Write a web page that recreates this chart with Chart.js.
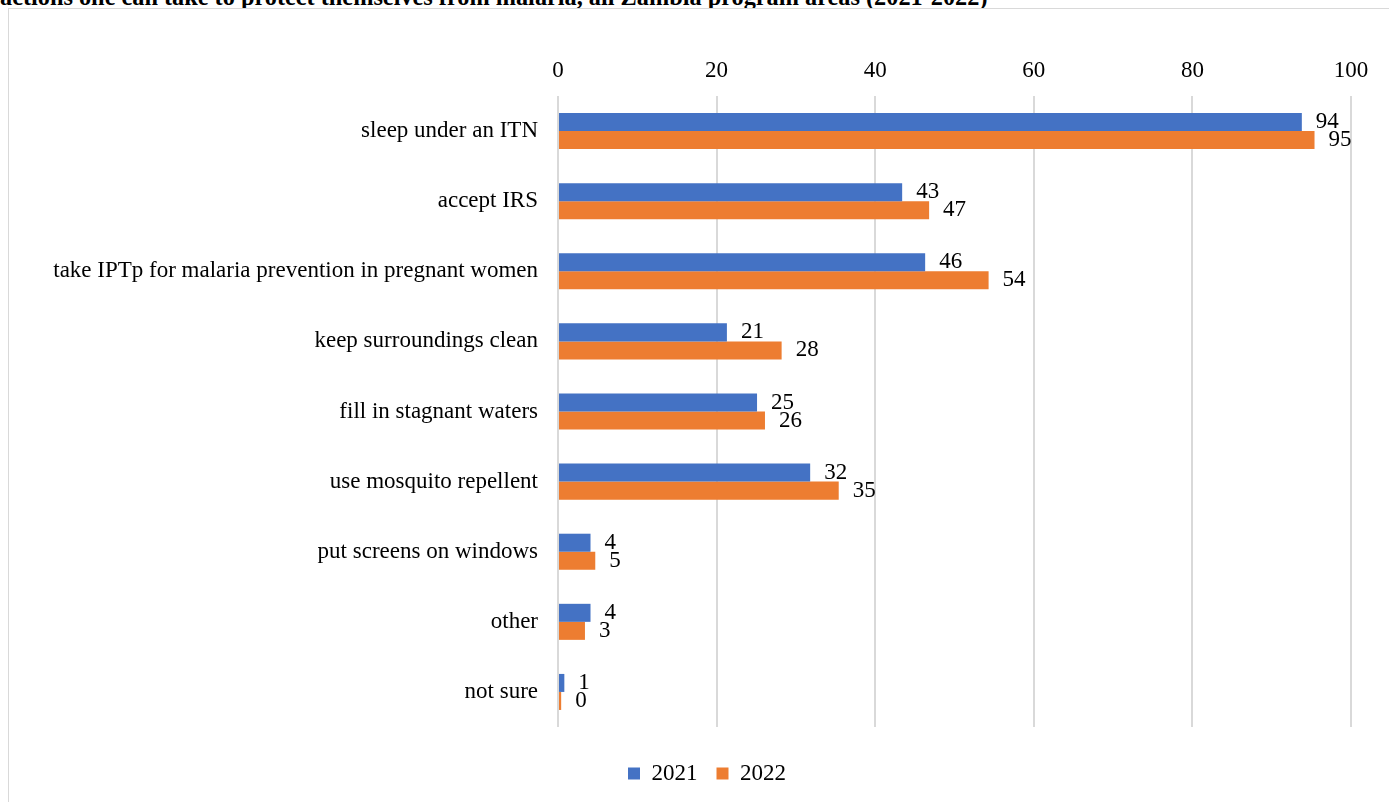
<!DOCTYPE html>
<html>
<head>
<meta charset="utf-8">
<script src="https://cdn.jsdelivr.net/npm/chart.js@4"></script>
<style>
  html, body { margin: 0; padding: 0; background: #fff; overflow: hidden; }
  body { width: 1389px; height: 802px; position: relative; }
  #title {
    position: absolute; left: 0; top: -17px; white-space: nowrap;
    font: bold 24.3px "Liberation Serif", "Times New Roman", serif; color: #000;
  }
  #frame {
    position: absolute; left: 8px; top: 8px; width: 1400px; height: 820px;
    border: 1px solid #d9d9d9; background: #fff;
  }
  #wrap { position: absolute; left: 9px; top: 9px; }
</style>
</head>
<body>
<div id="title">actions one can take to protect themselves from malaria, all Zambia program areas (2021-2022)</div>
<div id="frame"></div>
<div id="wrap"><canvas id="chart" width="1380" height="786"></canvas></div>
<script>
// categories, top to bottom
const categories = [
  'sleep under an ITN',
  'accept IRS',
  'take IPTp for malaria prevention in pregnant women',
  'keep surroundings clean',
  'fill in stagnant waters',
  'use mosquito repellent',
  'put screens on windows',
  'other',
  'not sure'
];

// percentages (bar lengths, labels shown rounded)
const values2021 = [93.8, 43.4, 46.3, 21.3, 25.1, 31.8, 4.1, 4.1, 0.8];
const values2022 = [95.4, 46.8, 54.3, 28.2, 26.1, 35.4, 4.7, 3.4, 0.4];

const xTicks = [0, 20, 40, 60, 80, 100];

const serif = '"Liberation Serif", "Times New Roman", serif';

// value labels to the right of each bar
const barLabels = {
  id: 'barLabels',
  afterDatasetsDraw(chart) {
    const ctx = chart.ctx;
    ctx.save();
    ctx.font = '23px ' + serif;
    ctx.fillStyle = '#000';
    ctx.textAlign = 'left';
    ctx.textBaseline = 'middle';
    chart.data.datasets.forEach((ds, di) => {
      const meta = chart.getDatasetMeta(di);
      meta.data.forEach((el, i) => {
        ctx.fillText(Math.round(ds.data[i]).toString(), el.x + 14, el.y);
      });
    });
    ctx.restore();
  }
};

// nudge the legend row a bit right so it sits under the plot like the original
const legendShift = {
  id: 'legendShift',
  afterLayout(chart) {
    if (chart.legend) {
      chart.legend.left += 27;
      chart.legend.right += 27;
    }
  }
};

new Chart(document.getElementById('chart'), {
  type: 'bar',
  data: {
    labels: categories,
    datasets: [
      { label: '2021', data: values2021, backgroundColor: '#4472C4' },
      { label: '2022', data: values2022, backgroundColor: '#ED7D31' }
    ]
  },
  options: {
    indexAxis: 'y',
    responsive: false,
    animation: false,
    categoryPercentage: 0.514,
    barPercentage: 1,
    layout: { padding: { left: 0, right: 38, top: 0, bottom: 0 } },
    scales: {
      x: {
        position: 'top',
        min: 0,
        max: 100,
        afterBuildTicks: s => { s.ticks = xTicks.map(v => ({ value: v })); },
        afterFit: s => { s.height = 87; },
        grid: { color: '#d9d9d9', lineWidth: 2, drawTicks: false },
        border: { display: false },
        ticks: { color: '#000', padding: 11, font: { family: serif, size: 23 } }
      },
      y: {
        afterFit: s => { s.width = 549; },
        grid: { display: false, drawTicks: false },
        border: { display: false },
        ticks: { color: '#000', padding: 20, font: { family: serif, size: 23 } }
      }
    },
    plugins: {
      legend: {
        position: 'bottom',
        // empty title only adds room between plot and legend row
        title: { display: true, text: '', padding: { top: 15, bottom: 0 }, font: { size: 1, lineHeight: 1 } },
        labels: {
          color: '#000',
          boxWidth: 12,
          boxHeight: 12,
          padding: 19,
          font: { family: serif, size: 23 }
        }
      },
      tooltip: { enabled: false }
    }
  },
  plugins: [barLabels, legendShift]
});
</script>
</body>
</html>
